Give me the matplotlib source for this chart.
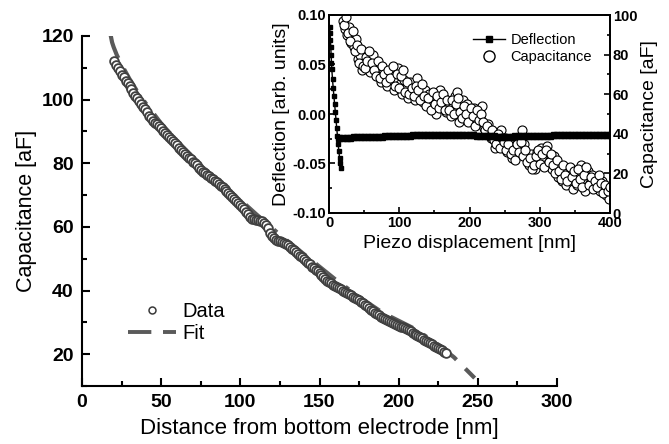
import numpy as np
import matplotlib
matplotlib.use("Agg")
import matplotlib.pyplot as plt
from matplotlib.ticker import MultipleLocator
from matplotlib.lines import Line2D

plt.rcParams['font.family'] = ['Liberation Sans', 'DejaVu Sans']

# ---------------- main panel data ----------------
dist_x = list(np.arange(20, 230.01, 1.25))
cap_data = [112.0, 111.0, 110.0, 109.0, 107.8, 107.0, 106.0, 105.2,
            104.2, 103.2, 102.2, 101.3, 100.4, 99.5, 98.6, 97.8,
            97.0, 96.0, 95.0, 94.2, 93.4, 92.7, 92.2, 91.6,
            91.0, 90.3, 89.6, 88.8, 88.3, 87.6, 87.0, 86.3,
            85.6, 84.9, 84.2, 83.6, 83.0, 82.4, 81.8, 81.2,
            80.5, 80.0, 79.3, 78.6, 78.0, 77.4, 76.9, 76.4,
            76.0, 75.5, 75.0, 74.5, 74.0, 73.5, 73.0, 72.5,
            72.0, 71.3, 70.7, 70.0, 69.5, 68.8, 68.2, 67.6,
            67.0, 66.4, 65.6, 64.8, 64.0, 63.2, 62.6, 62.4,
            62.3, 62.2, 62.0, 61.8, 61.3, 60.5, 59.5, 58.2,
            57.0, 56.4, 56.0, 55.7, 55.5, 55.3, 55.0, 54.7,
            54.3, 53.8, 53.2, 52.6, 52.0, 51.5, 51.0, 50.5,
            50.0, 49.4, 48.8, 48.2, 47.5, 47.0, 46.5, 46.0,
            45.5, 45.0, 44.2, 43.6, 43.0, 42.6, 42.3, 41.9,
            41.5, 41.1, 40.8, 40.4, 40.0, 39.6, 39.2, 38.8,
            38.5, 38.1, 37.8, 37.4, 37.0, 36.5, 36.0, 35.5,
            35.0, 34.5, 34.0, 33.5, 33.0, 32.6, 32.2, 31.8,
            31.5, 31.1, 30.7, 30.4, 30.0, 29.7, 29.5, 29.2,
            29.0, 28.7, 28.5, 28.2, 28.0, 27.6, 27.2, 26.8,
            26.5, 26.1, 25.7, 25.3, 25.0, 24.6, 24.2, 23.8,
            23.5, 23.1, 22.7, 22.3, 22.0, 21.6, 21.2, 20.8,
            20.5]

fit_x = [18, 19, 20, 22, 25, 30, 35, 40, 50, 60, 75, 90, 100, 110, 125, 140, 150, 160,
         175, 190, 200, 210, 225, 235, 248]
fit_c = [120.5, 118.0, 116.5, 114.0, 111.0, 106.5, 102.5, 99.0, 92.5, 87.0, 79.5, 72.5,
         68.5, 64.0, 57.5, 51.5, 47.5, 43.5, 38.0, 33.0, 30.5, 28.0, 23.0, 19.0, 12.5]

# ---------------- inset data ----------------
piezo_cap_x = list(range(20, 399, 3))
piezo_cap = [97, 93, 90, 94, 86, 84, 88, 78, 80, 72,
             76, 79, 74, 71, 80, 75, 70, 73, 66, 72,
             69, 64, 71, 67, 62, 68, 73, 65, 60, 67,
             63, 58, 66, 61, 57, 68, 60, 63, 56, 62,
             55, 60, 53, 58, 50, 57, 62, 54, 58, 51,
             56, 49, 54, 59, 61, 46, 52, 57, 48, 55,
             50, 47, 53, 45, 51, 49, 54, 43, 40, 45,
             38, 41, 33, 39, 36, 42, 34, 38, 31, 36,
             28, 34, 30, 37, 33, 42, 35, 29, 24, 30,
             27, 22, 31, 26, 33, 28, 24, 34, 27, 22,
             29, 25, 18, 23, 16, 21, 14, 19, 22, 12,
             18, 14, 20, 24, 16, 11, 21, 15, 19, 13,
             17, 14, 11, 16, 12, 9, 7]
piezo_cap_x2 = list(np.arange(21.5, 400, 3))
piezo_cap2 = [95, 99, 91, 87, 92, 82, 85, 76, 83, 74,
              73, 77, 82, 76, 72, 69, 77, 68, 74, 70,
              66, 72, 68, 74, 64, 70, 63, 69, 72, 61,
              66, 60, 63, 59, 64, 62, 57, 65, 59, 54,
              58, 52, 61, 55, 59, 53, 56, 60, 52, 57,
              52, 57, 50, 55, 58, 51, 48, 54, 50, 46,
              53, 49, 44, 52, 47, 50, 46, 42, 44, 39,
              42, 37, 35, 40, 33, 38, 36, 32, 35, 30,
              32, 27, 35, 31, 36, 29, 32, 26, 28, 22,
              24, 29, 32, 25, 30, 23, 32, 26, 30, 24,
              20, 27, 21, 17, 24, 19, 16, 23, 18, 21,
              15, 22, 17, 13, 19, 23, 14, 18, 12, 16,
              13, 19, 15, 10, 14, 11, 13]

defl_x = [1, 1.5, 2, 2.5, 3, 3.5, 4, 5, 6, 7, 8, 9, 10, 11, 12, 13, 14, 15, 16, 17,
          14, 20, 25, 30, 35, 40, 45, 50, 55, 60, 65, 70, 75, 80, 85, 90, 95, 100, 105,
          110, 115, 120, 125, 130, 135, 140, 145, 150, 155, 160, 165, 170, 175, 180, 185,
          190, 195, 200, 205, 210, 215, 220, 225, 230, 235, 240, 245, 250, 255, 260, 265,
          270, 275, 280, 285, 290, 295, 300, 305, 310, 315, 320, 325, 330, 335, 340, 345,
          350, 355, 360, 365, 370, 375, 380, 385, 390, 395, 400]
defl = [0.088, 0.082, 0.075, 0.068, 0.060, 0.052, 0.045, 0.035, 0.026, 0.018, 0.010,
        0.002, -0.006, -0.014, -0.022, -0.030, -0.037, -0.044, -0.050, -0.055,
        -0.024, -0.024, -0.024, -0.024, -0.023, -0.023, -0.023, -0.023, -0.023, -0.023,
        -0.023, -0.023, -0.023, -0.022, -0.022, -0.022, -0.022, -0.022, -0.022, -0.022,
        -0.022, -0.021, -0.021, -0.021, -0.021, -0.021, -0.021, -0.021, -0.021, -0.021,
        -0.021, -0.021, -0.021, -0.021, -0.021, -0.021, -0.021, -0.021, -0.021, -0.022,
        -0.022, -0.022, -0.022, -0.022, -0.022, -0.023, -0.023, -0.023, -0.023, -0.023,
        -0.022, -0.022, -0.022, -0.022, -0.022, -0.022, -0.022, -0.022, -0.022, -0.022,
        -0.022, -0.021, -0.021, -0.021, -0.021, -0.021, -0.021, -0.021, -0.021, -0.021,
        -0.021, -0.021, -0.021, -0.021, -0.021, -0.021, -0.021, -0.021]

fig = plt.figure(figsize=(6.69, 4.44), dpi=100)

# ---------------- main axes ----------------
ax = fig.add_axes([82/669, 1-386/444, (557-82)/669, (386-36)/444])
ax.plot(fit_x, fit_c, color='#5a5a5a', lw=3.0, dashes=(6, 3, 6, 3, 1, 3), zorder=2)
ax.plot(dist_x, cap_data, linestyle='none', marker='o', ms=6.3, mfc='white',
        mec='#404040', mew=1.3, zorder=3)
ax.set_xlim(0, 300)
ax.set_ylim(10, 120)
ax.xaxis.set_major_locator(MultipleLocator(50))
ax.xaxis.set_minor_locator(MultipleLocator(25))
ax.yaxis.set_major_locator(MultipleLocator(20))
ax.yaxis.set_minor_locator(MultipleLocator(10))
ax.set_yticks([20, 40, 60, 80, 100, 120])
for s in ['top', 'right']:
    ax.spines[s].set_visible(False)
for s in ['left', 'bottom']:
    ax.spines[s].set_linewidth(1.5)
ax.tick_params(which='major', direction='in', length=6, width=1.5, labelsize=14, pad=6)
ax.tick_params(which='minor', direction='in', length=3.5, width=1.5)
for lab in ax.get_xticklabels() + ax.get_yticklabels():
    lab.set_fontweight('bold')
ax.set_xlabel('Distance from bottom electrode [nm]', fontsize=16, labelpad=5)
ax.set_ylabel('Capacitance [aF]', fontsize=15.5, labelpad=3)

h_data = Line2D([], [], linestyle='none', marker='o', ms=5, mfc='white', mec='#3a3a3a', mew=1.1)
h_fit = Line2D([], [], color='#5a5a5a', lw=2.8, dashes=(6, 3, 6, 3, 1, 3))
leg = ax.legend([h_data, h_fit], ['Data', 'Fit'], loc='upper left',
                bbox_to_anchor=(120/669, 1-294/444), bbox_transform=fig.transFigure,
                frameon=False, fontsize=14.5, handlelength=2.4, handletextpad=0.3,
                labelspacing=0.15, borderaxespad=0)

# ---------------- inset ----------------
ins = fig.add_axes([329/669, 1-213/444, (610-329)/669, (213-15)/444])
ins.plot(defl_x[:20], defl[:20], color='black', lw=1, marker='s', ms=3.5, zorder=3)
ins.plot(defl_x[20:], defl[20:], color='black', lw=1, marker='s', ms=4.4, zorder=3)
ins.set_xlim(0, 400)
ins.set_ylim(-0.10, 0.10)
ins.set_yticks([-0.10, -0.05, 0.00, 0.05, 0.10])
ins.set_yticklabels(['-0.10', '-0.05', '0.00', '0.05', '0.10'])
ins.xaxis.set_major_locator(MultipleLocator(100))
ins.xaxis.set_minor_locator(MultipleLocator(50))
ins.yaxis.set_minor_locator(MultipleLocator(0.025))
ins.set_xlabel('Piezo displacement [nm]', fontsize=14, labelpad=4)
ins.set_ylabel('Deflection [arb. units]', fontsize=14, labelpad=2)

ins2 = ins.twinx()
ins2.plot(piezo_cap_x, piezo_cap, linestyle='none', marker='o', ms=6.5, mfc='white',
          mec='black', mew=0.8)
ins2.plot(piezo_cap_x2, piezo_cap2, linestyle='none', marker='o', ms=6.5, mfc='white',
          mec='black', mew=0.8)
ins2.set_ylim(0, 100)
ins2.yaxis.set_major_locator(MultipleLocator(20))
ins2.yaxis.set_minor_locator(MultipleLocator(10))
ins2.set_ylabel('Capacitance [aF]', fontsize=14, labelpad=3)
ins.set_zorder(ins2.get_zorder() + 1)
ins.patch.set_visible(False)

for a in (ins, ins2):
    for s in a.spines.values():
        s.set_linewidth(1.3)
    a.tick_params(which='major', direction='in', length=4, width=1.2, labelsize=10.5, pad=2)
    a.tick_params(which='minor', direction='in', length=2.5, width=1.2)
for lab in ins.get_xticklabels() + ins.get_yticklabels() + ins2.get_yticklabels():
    lab.set_fontweight('bold')

h_def = Line2D([], [], color='black', lw=1, marker='s', ms=5)
h_cap = Line2D([], [], linestyle='none', marker='o', ms=8, mfc='white', mec='black', mew=1)
ins.legend([h_def, h_cap], ['Deflection', 'Capacitance'], loc='upper right',
           bbox_to_anchor=(598/669, 1-27/444), bbox_transform=fig.transFigure,
           frameon=False, fontsize=10.5, handlelength=2.2, handletextpad=0.4,
           labelspacing=0.2, borderaxespad=0)

fig.savefig('out.png', dpi=100)
